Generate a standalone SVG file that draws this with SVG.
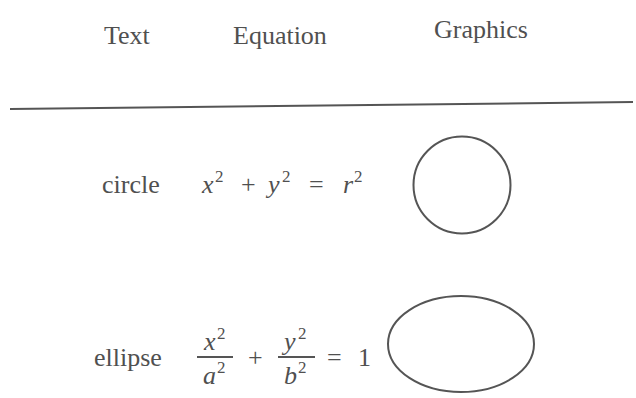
<svg xmlns="http://www.w3.org/2000/svg" width="636" height="398" viewBox="0 0 636 398">
<style>
text{font-family:"Liberation Serif","Times New Roman","DejaVu Serif",serif;fill:#505050;font-size:26px}
.i{font-style:italic}
.s{font-size:17px}
.ln{stroke:#555;stroke-width:2;fill:none}
</style>
<rect width="636" height="398" fill="#fff"/>
<g id="header" font-family="Liberation Serif, DejaVu Serif, serif">
<text x="104" y="44">Text</text>
<text x="233" y="44">Equation</text>
<text x="434" y="38">Graphics</text>
</g>
<line class="ln" x1="10" y1="109" x2="633" y2="102"/>
<g id="row-circle" font-family="Liberation Serif, DejaVu Serif, serif">
<text x="102" y="193">circle</text>
<text x="202" y="193" class="i">x</text>
<text x="215" y="182" class="s">2</text>
<text x="241" y="193">+</text>
<text x="268" y="193" class="i">y</text>
<text x="282" y="182" class="s">2</text>
<text x="309" y="193">=</text>
<text x="343" y="193" class="i">r</text>
<text x="354" y="182" class="s">2</text>
<circle class="ln" cx="462" cy="185" r="48.5"/>
</g>
<g id="row-ellipse" font-family="Liberation Serif, DejaVu Serif, serif">
<text x="94" y="366">ellipse</text>
<text x="204" y="350" class="i">x</text>
<text x="217" y="339" class="s">2</text>
<line class="ln" x1="197" y1="357" x2="233" y2="357" stroke-width="1.5"/>
<text x="203" y="384" class="i">a</text>
<text x="217" y="373" class="s">2</text>
<text x="248" y="366">+</text>
<text x="284" y="350" class="i">y</text>
<text x="298" y="339" class="s">2</text>
<line class="ln" x1="278" y1="357" x2="315" y2="357" stroke-width="1.5"/>
<text x="284" y="384" class="i">b</text>
<text x="298" y="373" class="s">2</text>
<text x="327" y="366">=</text>
<text x="358" y="366">1</text>
<ellipse class="ln" cx="461" cy="344" rx="73" ry="48"/>
</g>
</svg>
